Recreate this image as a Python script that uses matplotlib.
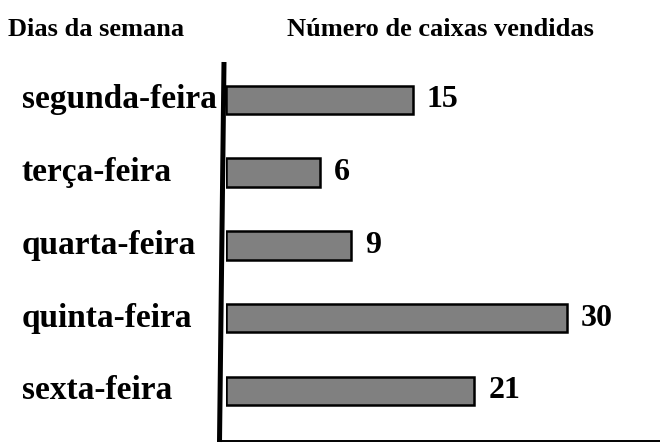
import matplotlib
matplotlib.use("Agg")
import matplotlib.pyplot as plt
from matplotlib.lines import Line2D
from matplotlib.transforms import blended_transform_factory
import numpy as np

days = ["segunda-feira", "terça-feira", "quarta-feira", "quinta-feira", "sexta-feira"]
boxes = [15, 6, 9, 30, 21]
header_left = "Dias da semana"
header_right = "Número de caixas vendidas"

W, H = 660, 444
fig = plt.figure(figsize=(W / 100, H / 100), dpi=100)
plt.rcParams['font.family'] = ['Liberation Serif', 'DejaVu Serif']

ax = fig.add_axes([226 / W, 1 - 441 / H, (W - 226) / W, (441 - 65) / H])
ax.set_xlim(-3.2, 39.1)
ax.set_ylim(4.69, -0.48)
ax.axis("off")

base = -3.2
ys = np.arange(len(days))
ax.barh(ys, np.array(boxes) + (-base), left=base, height=0.39,
        color="#808080", edgecolor="black", linewidth=1.8)

for y, v in zip(ys, boxes):
    ax.annotate(str(v), (v, y), xytext=(10, 0), textcoords="offset points",
                va="center", ha="left", fontsize=23, fontweight="bold")

tr = blended_transform_factory(fig.transFigure, ax.transData)
for y, d in zip(ys, days):
    ax.text(22 / W, y, d, transform=tr, va="center", ha="left",
            fontsize=24, fontweight="bold")

fig.text(8 / W, 1 - 29 / H, header_left, ha="left", va="center",
         fontsize=19, fontweight="bold")
fig.text(287 / W, 1 - 29 / H, header_right, ha="left", va="center",
         fontsize=19, fontweight="bold")

fig.add_artist(Line2D([224 / W, 219.5 / W], [1 - 62 / H, 1 - 442 / H],
                      transform=fig.transFigure, color="black", lw=3.6,
                      solid_capstyle="butt"))
fig.add_artist(Line2D([218 / W, 1.0], [1 - 441 / H, 1 - 441 / H],
                      transform=fig.transFigure, color="black", lw=1.4))

fig.savefig("out.png", dpi=100)
